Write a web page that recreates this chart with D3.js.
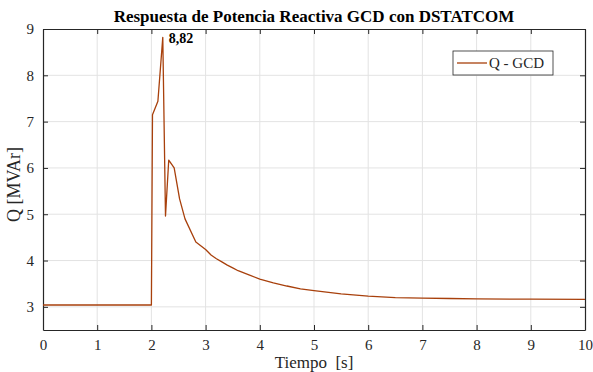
<!DOCTYPE html>
<html>
<head>
<meta charset="utf-8">
<script src="https://cdn.jsdelivr.net/npm/d3@7"></script>
<style>
  body { margin: 0; background: #fff; }
  .grid line { stroke: #e3e3e3; stroke-width: 1; }
  .axis path, .axis line { stroke: #262626; }
</style>
</head>
<body>
<div id="chart"></div>
<script>
// tiempo [s] y potencia reactiva [MVAr]
const tiempo = [0, 2.0, 2.02, 2.12, 2.21, 2.26, 2.32, 2.42, 2.52, 2.62, 2.82, 3.0,
    3.1, 3.2, 3.3, 3.4, 3.5, 3.6, 3.8, 4.0, 4.25, 4.5, 4.75, 5.0, 5.5, 6.0, 6.5, 7.0, 7.5, 8.0, 9.0, 10.0];
const qGcd = [3.04, 3.04, 7.15, 7.44, 8.82, 4.96, 6.17, 6.0, 5.33, 4.9, 4.4, 4.24,
    4.12, 4.04, 3.97, 3.9, 3.84, 3.78, 3.69, 3.6, 3.52, 3.45, 3.39, 3.35, 3.28, 3.23, 3.2, 3.19, 3.18, 3.17, 3.165, 3.16];
const xTicks = [0, 1, 2, 3, 4, 5, 6, 7, 8, 9, 10];
const yTicks = [3, 4, 5, 6, 7, 8, 9];
const peak = { t: 2.21, q: 8.82, label: "8,82" };

const svg = { width: 593, height: 372, margin: { top: 29, right: 8, bottom: 42, left: 43 } };
const lineColor = "#a8400c";
const serif = "'Liberation Serif', 'Times New Roman', serif";

const x = d3.scaleLinear().domain([0, 10])
    .range([svg.margin.left, svg.width - svg.margin.right]);
const y = d3.scaleLinear().domain([2.5, 9])
    .range([svg.height - svg.margin.bottom, svg.margin.top]);

const chart = d3.select("#chart").append("svg")
    .attr("width", svg.width)
    .attr("height", svg.height)
    .attr("font-family", serif);

const x0 = x.range()[0], x1 = x.range()[1], y0 = y.range()[0], y1 = y.range()[1];

// rejilla
const grid = chart.append("g").attr("class", "grid");
grid.selectAll("line.gx").data(xTicks.slice(1, -1)).join("line")
    .attr("x1", d => x(d)).attr("x2", d => x(d)).attr("y1", y1).attr("y2", y0);
grid.selectAll("line.gy").data(yTicks.slice(0, -1)).join("line")
    .attr("y1", d => y(d)).attr("y2", d => y(d)).attr("x1", x0).attr("x2", x1);

// ejes con ticks hacia dentro
chart.append("g").attr("class", "axis x")
    .attr("transform", `translate(0,${y0})`)
    .call(d3.axisBottom(x).tickValues(xTicks).tickFormat(d3.format("d")).tickSizeInner(-5).tickSizeOuter(0).tickPadding(9));
chart.append("g").attr("class", "axis")
    .attr("transform", `translate(0,${y1})`)
    .call(d3.axisTop(x).tickValues(xTicks).tickSizeInner(-5).tickSizeOuter(0).tickFormat(""));
chart.append("g").attr("class", "axis y")
    .attr("transform", `translate(${x0},0)`)
    .call(d3.axisLeft(y).tickValues(yTicks).tickFormat(d3.format("d")).tickSizeInner(-5).tickSizeOuter(0).tickPadding(9));
chart.append("g").attr("class", "axis")
    .attr("transform", `translate(${x1},0)`)
    .call(d3.axisRight(y).tickValues(yTicks).tickSizeInner(-5).tickSizeOuter(0).tickFormat(""));

chart.selectAll(".axis").attr("font-family", serif).attr("font-size", 15);
chart.selectAll(".axis text").attr("fill", "#262626");
chart.selectAll(".axis .domain").attr("stroke-width", 1.2);

// serie
const data = tiempo.map((t, i) => ({ t, q: qGcd[i] }));
chart.append("path")
    .datum(data)
    .attr("fill", "none")
    .attr("stroke", lineColor)
    .attr("stroke-width", 1.3)
    .attr("stroke-linejoin", "round")
    .attr("d", d3.line().x(d => x(d.t)).y(d => y(d.q)));

// etiqueta del pico
chart.append("text")
    .attr("x", x(peak.t) + 6).attr("y", y(peak.q) + 6)
    .attr("font-size", 14).attr("font-weight", "bold")
    .attr("fill", "#000")
    .text(peak.label);

// título y etiquetas
chart.append("text")
    .attr("x", 314).attr("y", 22)
    .attr("text-anchor", "middle")
    .attr("font-size", 17).attr("font-weight", "bold").attr("fill", "#000")
    .text("Respuesta de Potencia Reactiva GCD con DSTATCOM");

chart.append("text")
    .attr("x", (x0 + x1) / 2).attr("y", 368)
    .attr("text-anchor", "middle")
    .attr("font-size", 17).attr("fill", "#262626")
    .attr("xml:space", "preserve")
    .text("Tiempo  [s]");

chart.append("text")
    .attr("transform", `translate(20,${(y0 + y1) / 2 + 5}) rotate(-90)`)
    .attr("text-anchor", "middle")
    .attr("font-size", 18).attr("fill", "#262626")
    .text("Q [MVAr]");

// leyenda
const lg = chart.append("g").attr("transform", "translate(453,51)");
lg.append("rect").attr("width", 100).attr("height", 24)
    .attr("fill", "#fff").attr("stroke", "#262626").attr("stroke-width", 0.8);
lg.append("line").attr("x1", 4).attr("x2", 34).attr("y1", 12).attr("y2", 12)
    .attr("stroke", lineColor).attr("stroke-width", 1.3);
lg.append("text").attr("x", 36).attr("y", 17).attr("font-size", 15).attr("fill", "#262626").text("Q - GCD");
</script>
</body>
</html>
